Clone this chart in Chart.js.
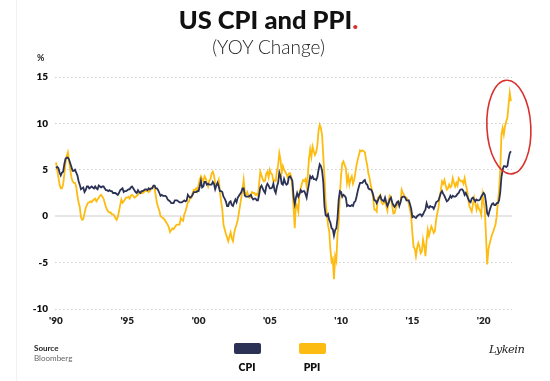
<!DOCTYPE html>
<html><head><meta charset="utf-8">
<script src="https://cdn.jsdelivr.net/npm/chart.js@4.4.0/dist/chart.umd.min.js"></script>
<style>
html,body{margin:0;padding:0;background:#fff;}
#wrap{position:relative;width:550px;height:381px;overflow:hidden;font-family:Lato,"Open Sans",sans-serif;background:#fff;}
#c{position:absolute;left:0;top:0;}
.edge{position:absolute;left:16px;top:0;width:1px;height:381px;background:#f1f1f1;}
.title{position:absolute;left:0;width:537px;top:4px;text-align:center;font-weight:900;font-size:25.5px;line-height:30px;color:#111;}
.title span{color:#d9302c;}
.sub{position:absolute;left:0;width:537px;top:35px;text-align:center;font-weight:300;font-size:19px;line-height:24px;color:#222;}
.pct{position:absolute;left:37px;top:52px;font-weight:700;font-size:9px;color:#222;}
.src{position:absolute;left:34px;top:343px;font-size:8px;line-height:10px;color:#666;}
.src b{color:#222;}
.sig{position:absolute;left:489px;top:342px;font-family:"DejaVu Serif",serif;font-style:italic;font-size:11.5px;color:#222;letter-spacing:-0.6px;}
.leg{position:absolute;top:343px;width:40px;text-align:center;font-weight:800;font-size:10.5px;color:#111;}
.leg i{display:block;width:27px;height:11px;border-radius:2px;margin:0 auto 7px auto;}
</style></head>
<body><div id="wrap">
<div class="edge"></div>
<canvas id="c" width="550" height="381"></canvas>
<div class="title">US CPI and PPI<span>.</span></div>
<div class="sub">(YOY Change)</div>
<div class="pct">%</div>
<div class="src"><b>Source</b><br>Bloomberg</div>
<div class="sig">Lykein</div>
<div id="legend"></div>
</div>
<script>
const startYear = 1990;
const cpi = [
5.2,5.3,5.2,4.7,4.4,4.7,4.8,5.6,6.2,6.3,6.3,6.1,
5.7,5.3,4.9,4.9,5.0,4.7,4.4,3.8,3.4,2.9,3.0,3.1,
2.6,2.8,3.2,3.2,3.0,3.1,3.2,3.1,3.0,3.2,3.0,2.9,
3.3,3.2,3.1,3.2,3.2,3.0,2.8,2.8,2.7,2.8,2.7,2.7,
2.5,2.5,2.5,2.4,2.3,2.5,2.8,2.9,3.0,2.6,2.7,2.7,
2.8,2.9,2.9,3.1,3.2,3.0,2.8,2.6,2.5,2.8,2.6,2.5,
2.7,2.7,2.8,2.9,2.9,2.8,3.0,2.9,3.0,3.0,3.3,3.3,
3.0,3.0,2.8,2.5,2.2,2.3,2.2,2.2,2.2,2.1,1.8,1.7,
1.6,1.4,1.4,1.4,1.7,1.7,1.7,1.6,1.5,1.5,1.5,1.6,
1.7,1.6,1.7,2.3,2.1,2.0,2.1,2.3,2.6,2.6,2.6,2.7,
2.7,3.2,3.8,3.1,3.2,3.7,3.7,3.4,3.5,3.4,3.4,3.4,
3.7,3.5,2.9,3.3,3.6,3.2,2.7,2.7,2.6,2.1,1.9,1.6,
1.1,1.1,1.5,1.6,1.2,1.1,1.5,1.8,1.5,2.0,2.2,2.4,
2.6,3.0,3.0,2.2,2.1,2.1,2.1,2.2,2.3,2.0,1.8,1.9,
1.9,1.7,1.7,2.3,3.1,3.3,3.0,2.7,2.5,3.2,3.5,3.3,
3.0,3.0,3.1,3.5,2.8,2.5,3.2,3.6,4.7,4.3,3.5,3.4,
4.0,3.6,3.4,3.5,4.2,4.3,4.1,3.8,2.1,1.3,2.0,2.5,
2.1,2.4,2.8,2.6,2.7,2.7,2.4,2.0,2.8,3.5,4.3,4.1,
4.3,4.0,4.0,3.9,4.2,5.0,5.6,5.4,4.9,3.7,1.1,0.1,
0.0,0.2,-0.4,-0.7,-1.3,-1.4,-2.1,-1.5,-1.3,-0.2,1.8,2.7,
2.6,2.1,2.3,2.2,2.0,1.1,1.2,1.1,1.1,1.2,1.1,1.5,
1.6,2.1,2.7,3.2,3.6,3.6,3.6,3.8,3.9,3.5,3.4,3.0,
2.9,2.9,2.7,2.3,1.7,1.7,1.4,1.7,2.0,2.2,1.8,1.7,
1.6,2.0,1.5,1.1,1.4,1.8,2.0,1.5,1.2,1.0,1.2,1.5,
1.6,1.1,1.5,2.0,2.1,2.1,2.0,1.7,1.7,1.7,1.3,0.8,
-0.1,0.0,-0.1,-0.2,0.0,0.1,0.2,0.2,0.0,0.2,0.5,0.7,
1.4,1.0,0.9,1.1,1.0,1.0,0.8,1.1,1.5,1.6,1.7,2.1,
2.5,2.7,2.4,2.2,1.9,1.6,1.7,1.9,2.2,2.0,2.2,2.1,
2.1,2.2,2.4,2.5,2.8,2.9,2.9,2.7,2.3,2.5,2.2,1.9,
1.6,1.5,1.9,2.0,1.8,1.6,1.8,1.7,1.7,1.8,2.1,2.3,
2.5,2.3,1.5,0.3,0.1,0.6,1.0,1.3,1.4,1.2,1.2,1.4,
1.4,1.7,2.6,4.2,5.0,5.4,5.4,5.3,5.4,6.2,6.8,7.0
];
const ppi = [
5.8,5.0,4.2,3.4,3.0,3.0,3.4,4.5,5.7,6.5,6.9,6.0,
5.0,4.2,3.75,3.6,3.6,3.2,2.2,1.5,1.0,-0.1,-0.4,-0.3,
0.3,0.9,1.2,1.45,1.5,1.6,1.5,1.7,1.8,1.9,1.6,1.8,
2.0,2.2,2.3,2.1,1.9,1.45,1.0,0.7,0.5,0.4,0.4,0.2,
0.2,0.1,-0.2,-0.4,-0.1,0.5,1.2,1.8,1.45,1.6,1.8,2.0,
2.0,2.1,1.9,2.2,2.3,2.2,2.0,2.1,2.2,2.3,2.5,2.6,
2.5,2.5,2.6,2.8,2.7,2.8,2.6,2.7,2.9,3.1,3.2,3.0,
2.2,1.4,1.0,0.6,0.0,-0.1,-0.2,-0.3,-0.5,-0.7,-0.9,-1.2,
-1.7,-1.5,-1.3,-1.4,-1.2,-1.0,-0.9,-0.9,-0.9,-0.2,-0.4,-0.5,
0.2,0.5,1.0,1.5,1.6,2.1,2.0,2.5,2.85,2.8,3.0,2.7,
3.4,3.9,4.3,4.0,3.75,4.3,4.1,3.5,3.2,3.8,4.0,4.6,
4.8,4.4,3.6,3.4,3.5,3.9,2.6,1.6,0.7,-0.9,-1.4,-1.9,
-2.3,-2.7,-2.2,-1.75,-2.4,-2.7,-1.8,-1.3,-0.9,-0.4,0.4,1.2,
2.0,2.85,3.9,2.5,2.3,2.6,2.2,2.0,2.1,2.6,2.5,2.5,
2.3,2.4,2.2,3.5,4.8,4.4,4.0,3.75,3.8,4.6,4.8,4.2,
5.0,4.6,4.5,3.75,3.9,3.8,4.9,5.5,6.8,6.1,4.65,5.4,
5.0,4.8,4.5,4.2,4.6,4.65,4.3,3.0,0.9,-1.3,1.4,1.1,
0.5,2.5,3.0,3.5,3.9,3.8,4.0,3.2,4.4,6.2,7.2,6.4,
7.5,7.0,6.6,6.9,7.6,9.2,9.85,9.5,8.7,6.5,4.3,1.5,
0.3,-1.0,-1.6,-3.6,-4.9,-4.6,-6.8,-4.3,-4.8,-1.9,-0.7,2.3,
4.4,5.7,5.9,5.5,5.2,3.6,4.3,3.4,4.0,4.3,3.5,3.9,
4.65,5.5,6.1,6.6,7.1,7.0,7.1,7.0,6.9,6.1,5.5,4.6,
4.1,3.3,2.8,1.9,0.7,0.7,0.5,2.0,2.1,2.3,1.5,1.3,
1.4,1.7,1.1,0.6,1.7,2.2,2.0,1.1,0.3,0.35,0.8,1.2,
1.4,1.5,1.5,2.85,2.5,2.3,2.0,2.0,1.8,1.3,0.7,0.0,
-1.8,-3.3,-3.5,-4.3,-3.4,-2.9,-3.3,-4.0,-3.8,-2.5,-3.2,-4.3,
-2.6,-1.45,-2.1,-1.6,-1.1,-1.4,-1.8,-1.6,-0.4,0.35,0.9,2.1,
2.8,3.75,3.5,3.9,3.3,2.85,3.0,3.4,3.1,3.3,4.1,3.6,
3.2,3.6,3.3,4.1,3.9,3.75,3.8,3.5,4.1,3.4,2.85,1.9,
1.05,0.8,0.5,1.3,2.0,1.4,0.7,1.2,0.8,0.6,0.15,2.3,
1.5,0.7,-2.2,-5.2,-3.6,-3.0,-2.5,-2.0,-1.7,-1.3,-0.9,0.0,
1.5,2.8,5.0,8.8,9.5,8.8,9.7,10.2,10.6,12.0,13.3,12.4
];
const monthPos = cpi.map((_, i) => startYear + i / 12);
const tickYears = [1990, 1995, 2000, 2005, 2010, 2015, 2020];
const tickLabels = ["'90", "'95", "'00", "'05", "'10", "'15", "'20"];
const yTicks = [-10, -5, 0, 5, 10, 15];
const seriesNames = ["CPI", "PPI"];
const seriesColors = ["#2b3255", "#fdbc11"];
// highlight ellipse (data units): centre year, centre value, half-width (years), half-height (%)
const highlight = { x: 2021.77, y: 9.6, rx: 1.54, ry: 5.05 };

const ellipsePlugin = {
  id: 'ellipse',
  afterDatasetsDraw(chart) {
    const { ctx, scales: { x, y } } = chart;
    const cx = x.getPixelForValue(highlight.x), cy = y.getPixelForValue(highlight.y);
    const rx = Math.abs(x.getPixelForValue(highlight.x + highlight.rx) - cx);
    const ry = Math.abs(y.getPixelForValue(highlight.y + highlight.ry) - cy);
    ctx.save();
    ctx.beginPath();
    ctx.ellipse(cx, cy, rx, ry, -0.05, 0, Math.PI * 2);
    ctx.strokeStyle = '#d9322e';
    ctx.lineWidth = 1.6;
    ctx.stroke();
    ctx.restore();
  }
};

const chart = new Chart(document.getElementById('c'), {
  type: 'line',
  data: {
    datasets: [
      { label: seriesNames[0], data: cpi.map((v, i) => ({ x: monthPos[i], y: v })), borderColor: seriesColors[0], backgroundColor: seriesColors[0], borderWidth: 1.8, pointRadius: 0, tension: 0, order: 0 },
      { label: seriesNames[1], data: ppi.map((v, i) => ({ x: monthPos[i], y: v })), borderColor: seriesColors[1], backgroundColor: seriesColors[1], borderWidth: 1.8, pointRadius: 0, tension: 0, order: 1 }
    ]
  },
  options: {
    responsive: false,
    animation: false,
    layout: { padding: { left: 0, right: 38, top: 77, bottom: 47 } },
    plugins: { legend: { display: false }, tooltip: { enabled: false }, title: { display: false } },
    scales: {
      x: {
        type: 'linear', min: 1989.93, max: 2021.99,
        afterBuildTicks: s => { s.ticks = tickYears.map(v => ({ value: v })); },
        afterFit: s => { s.height = 25; },
        grid: { display: false, drawTicks: false, tickLength: 0 },
        border: { display: false },
        ticks: { padding: 6, color: '#222', font: { family: 'Lato', weight: '800', size: 10 },
          callback: v => tickLabels[tickYears.indexOf(v)] ?? '' , maxRotation: 0, autoSkip: false }
      },
      y: {
        min: -10, max: 15,
        afterBuildTicks: s => { s.ticks = yTicks.map(v => ({ value: v })); },
        afterFit: s => { s.width = 55; },
        border: { display: false, dash: c => (c.tick && c.tick.value === 0) ? [] : [1.5, 2.5] },
        grid: {
          drawTicks: false,
          color: c => (c.tick && c.tick.value === 0) ? '#e6e6e6' : '#cfcfcf',
          lineWidth: c => (c.tick && c.tick.value === 0) ? 2 : 1
        },
        ticks: { padding: 7, color: '#111', font: { family: 'Lato', weight: '800', size: 10 } }
      }
    }
  },
  plugins: [ellipsePlugin]
});

// legend built from the chart's datasets
const legendEl = document.getElementById('legend');
const legendCentres = [247, 312];
chart.data.datasets.forEach((ds, i) => {
  const d = document.createElement('div');
  d.className = 'leg';
  d.style.left = (legendCentres[i] - 20) + 'px';
  d.innerHTML = '<i style="background:' + ds.borderColor + '"></i>' + ds.label;
  legendEl.appendChild(d);
});
</script>
</body></html>
